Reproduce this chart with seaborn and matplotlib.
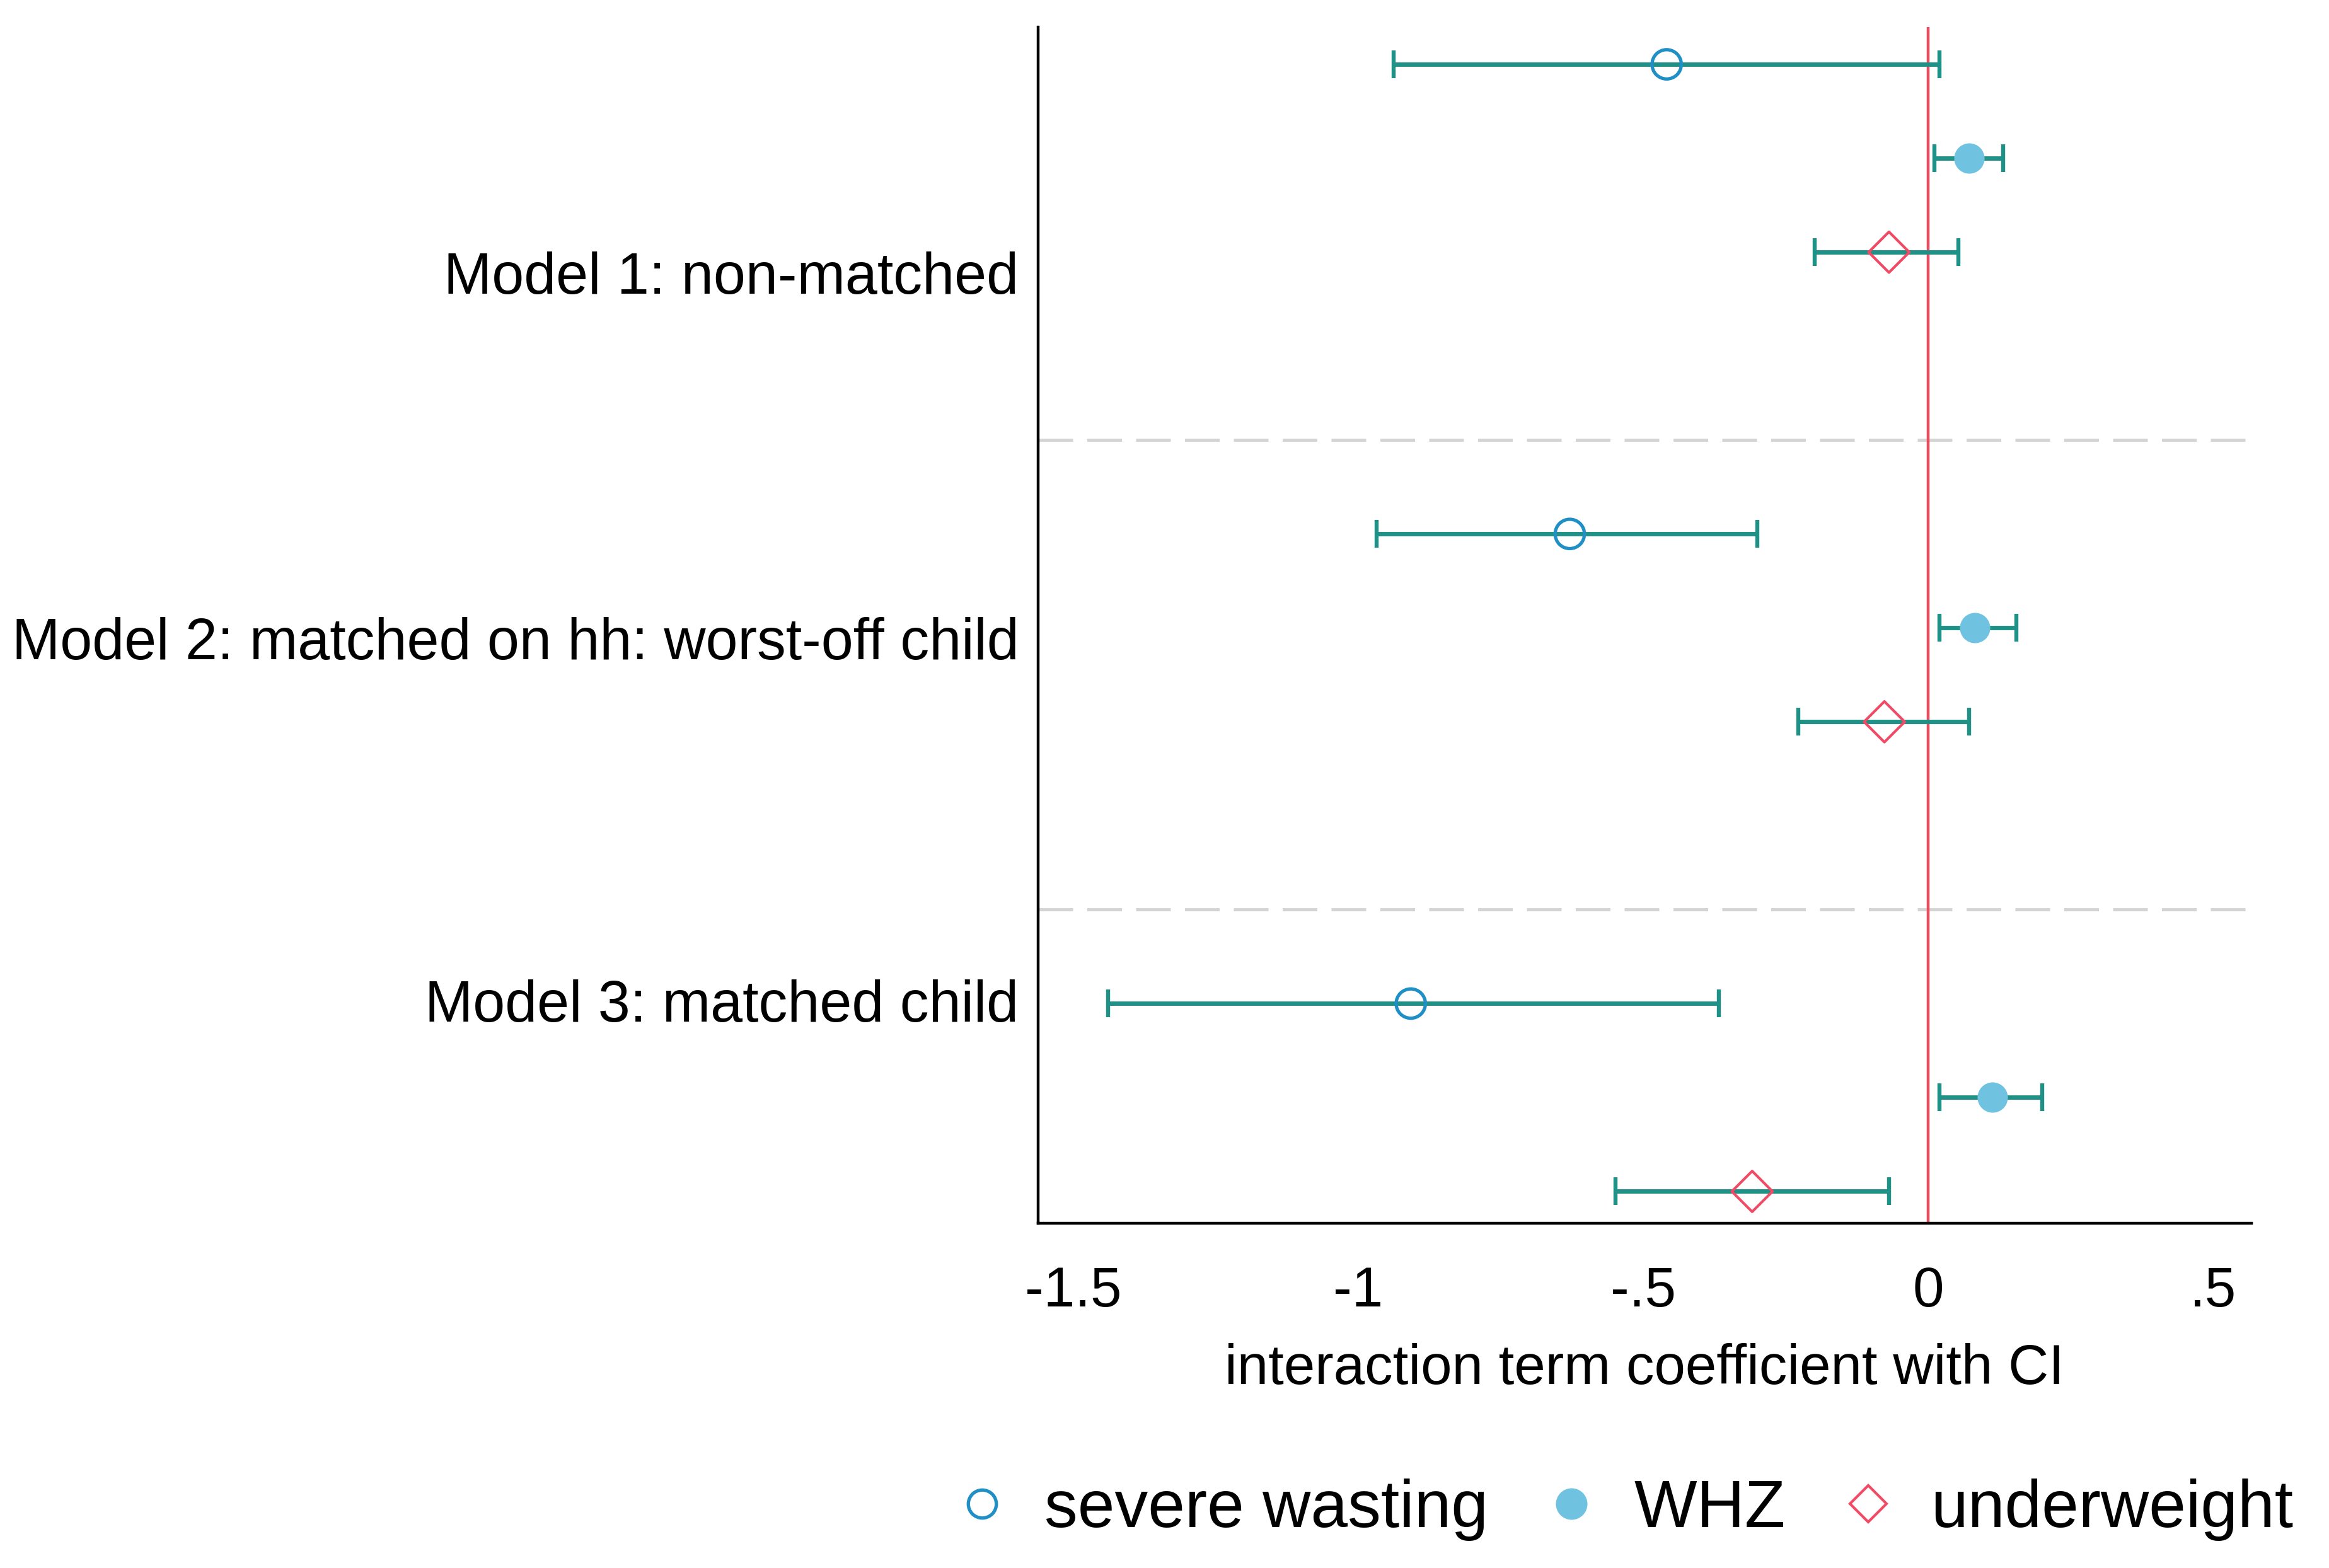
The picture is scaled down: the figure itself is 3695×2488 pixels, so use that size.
import numpy as np
import pandas as pd
import matplotlib
matplotlib.use("Agg")
import matplotlib.pyplot as plt
import seaborn as sns
from matplotlib.lines import Line2D

# ---------- DATA ----------
MODELS = ["Model 1: non-matched",
          "Model 2: matched on hh: worst-off child",
          "Model 3: matched child"]
OUTCOMES = ["severe wasting", "WHZ", "underweight"]

# point estimates per model, in outcome order
COEF_SW = [-0.459, -0.629, -0.908]
COEF_WHZ = [0.072, 0.082, 0.112]
COEF_UW = [-0.069, -0.077, -0.309]

# confidence limits
LO_SW = [-0.938, -0.968, -1.439]
HI_SW = [0.020, -0.300, -0.368]
LO_WHZ = [0.011, 0.020, 0.020]
HI_WHZ = [0.131, 0.154, 0.200]
LO_UW = [-0.199, -0.228, -0.549]
HI_UW = [0.053, 0.072, -0.069]

XTICKS = [-1.5, -1, -0.5, 0, 0.5]
XTICK_LABELS = ["-1.5", "-1", "-.5", "0", ".5"]

# ---------- STYLE ----------
C_SW = "#1f8fc6"
C_WHZ = "#6fc2e0"
C_UW = "#f04a64"
C_CI = "#1f9186"
C_REF = "#ef4a5e"
C_SEP = "#d4d4d4"

sns.set_theme(style="white")
plt.rcParams["font.family"] = ["Liberation Sans", "DejaVu Sans"]
plt.rcParams["text.color"] = "black"
plt.rcParams["xtick.color"] = "black"
plt.rcParams["ytick.color"] = "black"
plt.rcParams["axes.labelcolor"] = "black"

rows = []
for m in range(3):
    base = 1 + 5 * m
    for k, (c, lo, hi) in enumerate([(COEF_SW, LO_SW, HI_SW),
                                     (COEF_WHZ, LO_WHZ, HI_WHZ),
                                     (COEF_UW, LO_UW, HI_UW)]):
        rows.append({"model": MODELS[m], "outcome": OUTCOMES[k],
                     "coef": c[m], "lo": lo[m], "hi": hi[m], "pos": base + k})
df = pd.DataFrame(rows)

fig = plt.figure(figsize=(18.475, 12.44), dpi=200)
ax = fig.add_axes([0.4457, 0.2198, 0.521, 0.7629])

# separators and reference line
for ysep in [5, 10]:
    ax.axhline(ysep, color=C_SEP, lw=1.8, dashes=(11, 4.5), zorder=1)
ax.axvline(0, color=C_REF, lw=1.6, zorder=1)

# confidence intervals
ax.errorbar(df["coef"], df["pos"],
            xerr=[df["coef"] - df["lo"], df["hi"] - df["coef"]],
            fmt="none", ecolor=C_CI, elinewidth=2.5, capsize=8, capthick=2.3,
            zorder=2)

sub = df[df["outcome"] == "severe wasting"]
sns.scatterplot(data=sub, x="coef", y="pos", ax=ax, marker="o", s=280,
                facecolor="none", edgecolor=C_SW, linewidth=1.9, zorder=3,
                legend=False)
sub = df[df["outcome"] == "WHZ"]
sns.scatterplot(data=sub, x="coef", y="pos", ax=ax, marker="o", s=300,
                color=C_WHZ, edgecolor=C_WHZ, linewidth=0, zorder=3,
                legend=False)
sub = df[df["outcome"] == "underweight"]
sns.scatterplot(data=sub, x="coef", y="pos", ax=ax, marker="D", s=270,
                facecolor="none", edgecolor=C_UW, linewidth=1.5, zorder=3,
                legend=False)

ax.set_xlim(-1.562, 0.567)
ax.set_ylim(13.34, 0.604)
ax.set_xticks(XTICKS)
ax.set_xticklabels(XTICK_LABELS, fontsize=32)
ax.set_yticks([3.22, 7.11, 10.97])
ax.set_yticklabels(MODELS, fontsize=33)
ax.tick_params(axis="x", length=0, pad=24)
ax.tick_params(axis="y", length=0, pad=11)
ax.set_xlabel("interaction term coefficient with CI", fontsize=32, labelpad=14)
ax.set_ylabel("")
for side in ["top", "right"]:
    ax.spines[side].set_visible(False)
for side in ["left", "bottom"]:
    ax.spines[side].set_color("black")
    ax.spines[side].set_linewidth(1.6)

handles = [
    Line2D([], [], ls="none", marker="o", ms=16, mfc="none", mec=C_SW, mew=1.9),
    Line2D([], [], ls="none", marker="o", ms=17, mfc=C_WHZ, mec=C_WHZ),
    Line2D([], [], ls="none", marker="D", ms=15, mfc="none", mec=C_UW, mew=1.5),
]
fig.legend(handles, OUTCOMES, loc="center", bbox_to_anchor=(0.696, 0.037),
           ncol=3, frameon=False, fontsize=38, handletextpad=0.44,
           columnspacing=0.75, handlelength=1.0, borderpad=0.1)

fig.savefig("out.png", dpi=200, facecolor="white")
